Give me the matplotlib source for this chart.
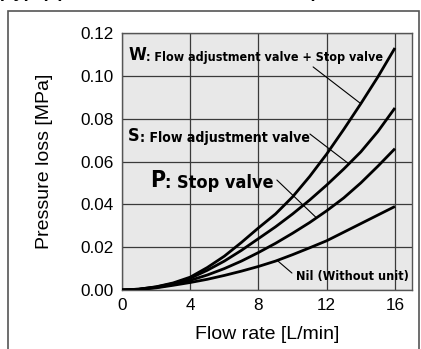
import matplotlib
matplotlib.use("Agg")
import matplotlib.pyplot as plt
from matplotlib.patches import Rectangle
from matplotlib import font_manager
import numpy as np

# Flow rate [L/min]
flow = [0, 1, 2, 3, 4, 5, 6, 7, 8, 9, 10, 11, 12, 13, 14, 15, 16]
# Pressure loss [MPa] per unit option
loss_w = [0, 0.0004, 0.0015, 0.0033, 0.0060, 0.0105, 0.0158, 0.0222, 0.0290,
          0.0355, 0.0435, 0.0530, 0.0635, 0.0750, 0.0870, 0.0995, 0.1130]
loss_s = [0, 0.0004, 0.0014, 0.0030, 0.0055, 0.0092, 0.0135, 0.0185, 0.0240,
          0.0295, 0.0355, 0.0420, 0.0490, 0.0565, 0.0645, 0.0740, 0.0850]
loss_p = [0, 0.0003, 0.0012, 0.0026, 0.0045, 0.0070, 0.0100, 0.0135, 0.0175,
          0.0218, 0.0265, 0.0315, 0.0370, 0.0430, 0.0500, 0.0578, 0.0660]
loss_nil = [0, 0.0003, 0.0010, 0.0022, 0.0035, 0.0050, 0.0068, 0.0088, 0.0110,
            0.0135, 0.0165, 0.0197, 0.0230, 0.0270, 0.0310, 0.0350, 0.0390]

x_ticks = [0, 4, 8, 12, 16]
y_ticks = [0.00, 0.02, 0.04, 0.06, 0.08, 0.10, 0.12]

plain = ["Liberation Sans", "DejaVu Sans"]
plt.rcParams["font.family"] = plain

# narrow bold face for the curve labels
condensed_faces = [f for f in font_manager.fontManager.ttflist
                   if "Condensed" in f.fname or "Narrow" in f.fname]
narrow_file = None
for f in condensed_faces:
    if "Bold" in f.fname and "Oblique" not in f.fname and "Italic" not in f.fname:
        narrow_file = f.fname
        break

def narrow_props(size):
    if narrow_file:
        return font_manager.FontProperties(fname=narrow_file, size=size)
    return font_manager.FontProperties(family="Liberation Sans", weight="bold",
                                       size=size * 0.92)

fig = plt.figure(figsize=(4.21, 3.49), dpi=100)
W, H = 421, 349

def fx(px):
    return px / W

def fy(py):
    return 1 - py / H

# outer frame
fig.patches.append(Rectangle((fx(8), fy(360)), fx(419) - fx(8), fy(11) - fy(360),
                             transform=fig.transFigure, fill=False,
                             edgecolor="#555555", linewidth=1.2))
# heading (clipped at top edge)
fig.text(fx(-2), fy(-3), "(Type) (Pressure loss characteristics)", fontsize=13,
         fontweight="bold", ha="left", va="baseline", color="black")

ax = fig.add_axes([fx(122), fy(290), fx(412) - fx(122), fy(33) - fy(290)])
ax.set_facecolor("#e8e8e8")
ax.set_xlim(0, 17)
ax.set_ylim(0, 0.12)
ax.set_xticks(x_ticks)
ax.set_yticks(y_ticks)
ax.set_xticklabels([str(v) for v in x_ticks])
ax.set_yticklabels([f"{v:.2f}" for v in y_ticks])
ax.tick_params(length=0, labelsize=12.3, pad=6, colors="black")
ax.grid(True, color="#3a3a3a", linewidth=0.9)
ax.set_axisbelow(True)
for sp in ax.spines.values():
    sp.set_color("#555555")
    sp.set_linewidth(1.0)

for series in (loss_w, loss_s, loss_p, loss_nil):
    ax.plot(flow, series, color="black", linewidth=2.0, solid_capstyle="butt",
            solid_joinstyle="round", zorder=3)

ax.set_xlabel("Flow rate [L/min]", fontsize=14, labelpad=9)
ax.set_ylabel("Pressure loss [MPa]", fontsize=14, labelpad=20)


def label(x, y, head, rest, head_size, rest_size):
    t1 = ax.text(x, y, head, transform=ax.transAxes, fontproperties=narrow_props(head_size),
                 ha="left", va="center", zorder=4)
    ax.annotate(rest, xy=(1, 0), xycoords=t1, xytext=(0, 0), textcoords="offset points",
                fontproperties=narrow_props(rest_size), ha="left", va="bottom", zorder=4)


def leader(start, fx_val, series):
    yv = np.interp(fx_val, flow, series)
    ax.annotate("", xy=(fx_val, yv), xycoords="data", xytext=start,
                textcoords="axes fraction",
                arrowprops=dict(arrowstyle="-", color="black", lw=0.8,
                                shrinkA=0, shrinkB=0), zorder=4)


label(0.021, 0.914, "W", ": Flow adjustment valve + Stop valve", 13, 9.0)
leader((0.659, 0.868), 14.0, loss_w)

label(0.021, 0.599, "S", ": Flow adjustment valve", 13, 10.1)
leader((0.648, 0.607), 13.3, loss_s)

label(0.097, 0.428, "P", ": Stop valve", 16.5, 13)
leader((0.534, 0.428), 11.4, loss_p)

ax.text(0.60, 0.054, "Nil (Without unit)", transform=ax.transAxes,
        fontproperties=narrow_props(9.1), ha="left", va="center", zorder=4)
leader((0.586, 0.066), 9.1, loss_nil)

fig.savefig("out.png", dpi=100)
